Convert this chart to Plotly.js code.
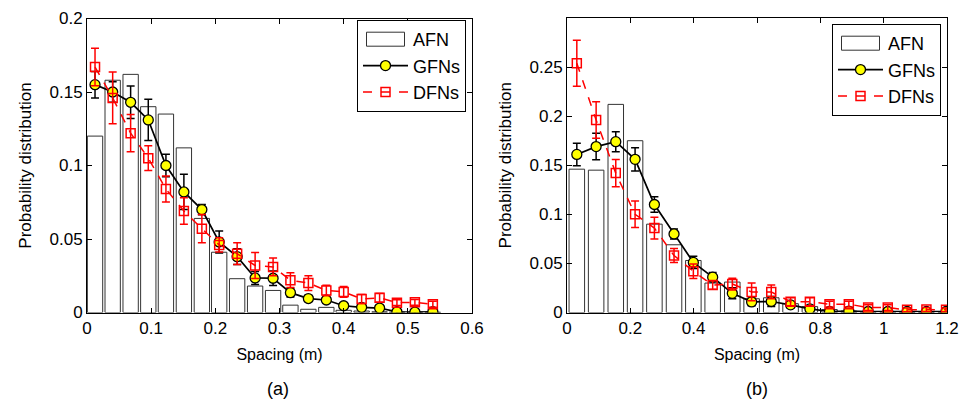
<!DOCTYPE html>
<html>
<head>
<meta charset="utf-8">
<script src="https://cdn.plot.ly/plotly-3.0.1.min.js"></script>
<style>html,body{margin:0;padding:0;background:#fff;}#chart{width:965px;height:404px;}</style>
</head>
<body>
<div id="chart"></div>
<script>
// Panel (a)
const xA = [0.0125, 0.040, 0.068, 0.0955, 0.123, 0.151, 0.179, 0.206, 0.234, 0.262, 0.290, 0.317, 0.345, 0.373, 0.400, 0.428, 0.456, 0.483, 0.511, 0.539];
const afnA = [0.120, 0.158, 0.162, 0.140, 0.135, 0.112, 0.064, 0.041, 0.023, 0.018, 0.015, 0.005, 0.0022, 0.0035, 0.0015, 0.001, 0.0005, 0.0003, 0.0002, 0.0002];
const gfnA = [0.155, 0.150, 0.143, 0.131, 0.100, 0.082, 0.070, 0.048, 0.038, 0.0235, 0.0233, 0.0135, 0.0095, 0.0085, 0.0046, 0.0035, 0.003, 0.0005, 0.0003, 0.0005];
const gfnAerr = [0.009, 0.007, 0.011, 0.014, 0.0076, 0.012, 0.0035, 0.0075, 0.0053, 0.0044, 0.005, 0.003, 0.002, 0.002, 0.0015, 0.0015, 0.001, 0.001, 0.001, 0.001];
const dfnA = [0.167, 0.146, 0.122, 0.105, 0.084, 0.069, 0.057, 0.046, 0.040, 0.032, 0.031, 0.022, 0.020, 0.015, 0.014, 0.0092, 0.010, 0.0067, 0.0069, 0.0056];
const dfnAerr = [0.0128, 0.0176, 0.0127, 0.0084, 0.0088, 0.009, 0.0096, 0.0048, 0.0074, 0.0088, 0.006, 0.005, 0.005, 0.0036, 0.0037, 0.003, 0.003, 0.002, 0.002, 0.002];

// Panel (b)
const xB = [0.031, 0.092, 0.154, 0.215, 0.276, 0.338, 0.399, 0.460, 0.522, 0.583, 0.645, 0.706, 0.767, 0.829, 0.890, 0.951, 1.013, 1.074, 1.135, 1.197];
const afnB = [0.146, 0.145, 0.212, 0.175, 0.090, 0.069, 0.053, 0.030, 0.031, 0.014, 0.015, 0.009, 0.006, 0.003, 0.0015, 0.001, 0.001, 0.0005, 0.0005, 0.0005];
const gfnB = [0.161, 0.169, 0.174, 0.156, 0.110, 0.080, 0.051, 0.036, 0.0195, 0.0108, 0.0112, 0.0078, 0.0037, 0.001, 0.0015, 0.001, 0.001, 0.001, 0.001, 0.001];
const gfnBerr = [0.0114, 0.0135, 0.0102, 0.0119, 0.008, 0.005, 0.0063, 0.0047, 0.0056, 0.004, 0.005, 0.003, 0.002, 0.0015, 0.001, 0.001, 0.001, 0.001, 0.001, 0.001];
const dfnB = [0.254, 0.196, 0.142, 0.100, 0.086, 0.058, 0.042, 0.028, 0.029, 0.021, 0.021, 0.011, 0.011, 0.0085, 0.0085, 0.005, 0.005, 0.0027, 0.003, 0.0027];
const dfnBerr = [0.0234, 0.0186, 0.0139, 0.0135, 0.011, 0.0071, 0.0073, 0.0044, 0.006, 0.009, 0.007, 0.004, 0.004, 0.003, 0.003, 0.003, 0.003, 0.002, 0.002, 0.002];

const seriesNames = ['AFN', 'GFNs', 'DFNs'];
const xTitle = 'Spacing (m)';
const yTitle = 'Probability distribution';
const panelLabels = ['(a)', '(b)'];

const FONT = 'Liberation Sans, Arial, sans-serif';

function panel(x, afn, gfn, gerr, dfn, derr, xa, ya, leg, barW) {
  return [
    {type: 'bar', x: x, y: afn, name: seriesNames[0], xaxis: xa, yaxis: ya, legend: leg,
     width: barW, marker: {color: '#ffffff', line: {color: '#333333', width: 1}}},
    {type: 'scatter', mode: 'lines+markers', x: x, y: gfn, name: seriesNames[1], xaxis: xa, yaxis: ya, legend: leg,
     line: {color: '#000000', width: 1.7},
     marker: {symbol: 'circle', size: 10, color: '#ffff00', line: {color: '#000000', width: 1.3}},
     error_y: {type: 'data', array: gerr, visible: true, color: '#000000', thickness: 1.5, width: 4}},
    {type: 'scatter', mode: 'lines+markers', x: x, y: dfn, name: seriesNames[2], xaxis: xa, yaxis: ya, legend: leg,
     line: {color: '#ff0000', width: 1.5, dash: 'dash'},
     marker: {symbol: 'square-open', size: 9, color: '#ff0000', line: {color: '#ff0000', width: 1.5}},
     error_y: {type: 'data', array: derr, visible: true, color: '#ff0000', thickness: 1.5, width: 4}}
  ];
}

const data = [].concat(
  panel(xA, afnA, gfnA, gfnAerr, dfnA, dfnAerr, 'x', 'y', 'legend', 0.0239),
  panel(xB, afnB, gfnB, gfnBerr, dfnB, dfnBerr, 'x2', 'y2', 'legend2', 0.049)
);

const axBase = {
  showgrid: false, zeroline: false, showline: true, linecolor: '#000', linewidth: 1,
  mirror: 'ticks', ticks: 'inside', ticklen: 5, tickcolor: '#000', tickwidth: 1,
  tickfont: {family: FONT, size: 17, color: '#000'}
};
const xTitleFont = {family: FONT, size: 16, color: '#000'};
const yTitleFont = {family: FONT, size: 17, color: '#000'};

const legBase = {
  bgcolor: '#ffffff', bordercolor: '#000', borderwidth: 1,
  font: {family: FONT, size: 18, color: '#000'},
  xanchor: 'right', yanchor: 'top', itemwidth: 45, tracegroupgap: 0
};

const layout = {
  width: 965, height: 404,
  margin: {l: 0, r: 0, t: 0, b: 0},
  paper_bgcolor: '#fff', plot_bgcolor: '#fff',
  showlegend: true,
  bargap: 0,
  xaxis: Object.assign({}, axBase, {domain: [87/965, 472/965], range: [0, 0.6], dtick: 0.1, anchor: 'y',
    title: {text: xTitle, font: xTitleFont, standoff: 11}}),
  yaxis: Object.assign({}, axBase, {domain: [91.5/404, 385.5/404], range: [0, 0.2], dtick: 0.05, anchor: 'x',
    title: {text: yTitle, font: yTitleFont, standoff: 13}}),
  xaxis2: Object.assign({}, axBase, {domain: [567/965, 947/965], range: [0, 1.2], dtick: 0.2, anchor: 'y2',
    title: {text: xTitle, font: xTitleFont, standoff: 11}}),
  yaxis2: Object.assign({}, axBase, {domain: [91.5/404, 386/404], range: [0, 0.3],
    tickvals: [0, 0.05, 0.1, 0.15, 0.2, 0.25], ticktext: ['0', '0.05', '0.1', '0.15', '0.2', '0.25'], anchor: 'x2',
    title: {text: yTitle, font: yTitleFont, standoff: 13}}),
  legend: Object.assign({}, legBase, {x: 466/965, y: (404-20)/404}),
  legend2: Object.assign({}, legBase, {x: 941/965, y: (404-24)/404}),
  annotations: [
    {text: panelLabels[0], xref: 'paper', yref: 'paper', x: 278/965, y: (404-389)/404, xanchor: 'center', yanchor: 'middle',
     showarrow: false, font: {family: FONT, size: 18, color: '#000'}},
    {text: panelLabels[1], xref: 'paper', yref: 'paper', x: 757/965, y: (404-389)/404, xanchor: 'center', yanchor: 'middle',
     showarrow: false, font: {family: FONT, size: 18, color: '#000'}}
  ]
};

function widenBarLegend() {
  // MATLAB-style wide rectangle for the bar legend symbol
  document.querySelectorAll('#chart .legendpoints path').forEach(function (p) {
    const d = p.getAttribute('d') || '';
    if (d.indexOf('M6,6H-6V-6H6Z') === 0 || p.classList.contains('legendbar')) {
      p.setAttribute('d', 'M19,7H-19V-7H19Z');
    }
  });
}

Plotly.newPlot('chart', data, layout, {displayModeBar: false, staticPlot: true}).then(function (gd) {
  widenBarLegend();
  gd.on('plotly_afterplot', widenBarLegend);
  setTimeout(widenBarLegend, 50);
  setTimeout(widenBarLegend, 300);
});
</script>
</body>
</html>
